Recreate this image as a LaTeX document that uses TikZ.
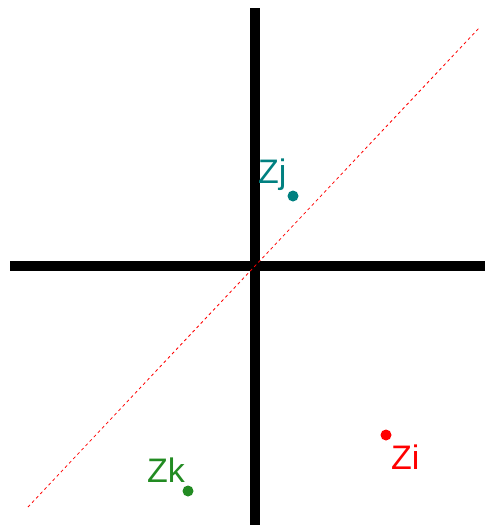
\documentclass[tikz,border=0pt]{standalone}
\usepackage{fontspec}
\setmainfont{Liberation Sans}
\definecolor{tealc}{RGB}{0,128,128}
\definecolor{greenc}{RGB}{34,139,34}
\begin{document}
\begin{tikzpicture}[x=1pt,y=-1pt,
  axis/.style={line width=10.5pt,black},
  diag/.style={red,line width=0.8pt,dash pattern=on 3pt off 3pt},
  pt/.style={circle,fill,inner sep=0pt,minimum size=11pt},
  lbl/.style={font=\fontsize{34}{34}\selectfont,inner sep=0pt,anchor=base west}]
\useasboundingbox (0,0) rectangle (485,525);
\coordinate (vt) at (255,8);
\coordinate (vb) at (255,525);
\coordinate (hl) at (10,266);
\coordinate (hr) at (485,266);
\coordinate (d1) at (28,507);
\coordinate (d2) at (480,27);
\draw[axis] (vt) -- (vb);
\draw[axis] (hl) -- (hr);
\draw[diag] (d1) -- (d2);
\node[pt,tealc] (pj) at (293,196) {};
\node[pt,red] (pi) at (386,435) {};
\node[pt,greenc] (pk) at (188,491) {};
\node[lbl,tealc] (lj) at (258,183) {Zj};
\node[lbl,red] (li) at (391,469) {Zi};
\node[lbl,greenc] (lk) at (147,482) {Zk};
\end{tikzpicture}
\end{document}
